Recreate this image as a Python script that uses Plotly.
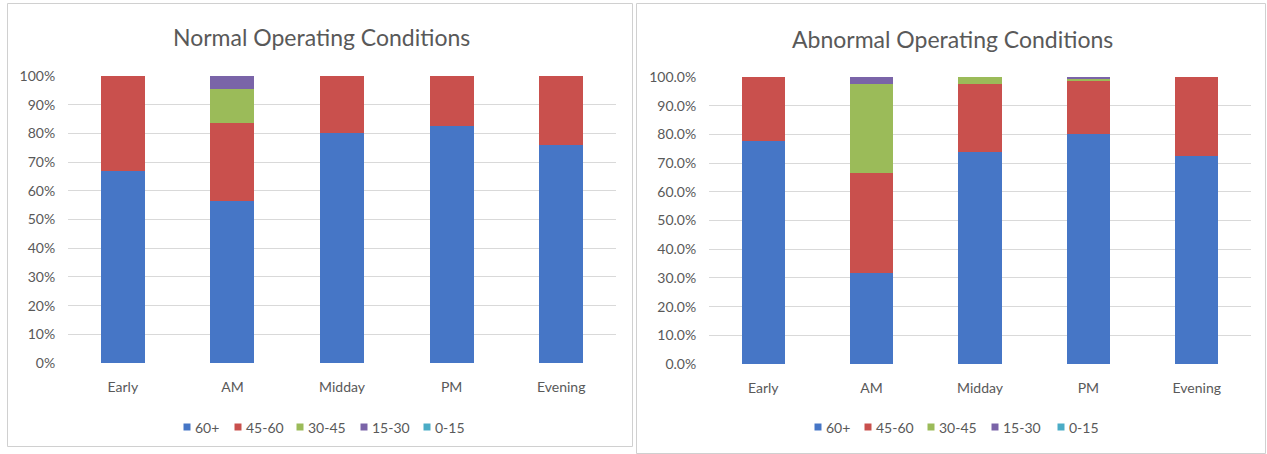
import plotly.graph_objects as go

# Time-of-day periods on the x axis
periods = ["Early", "AM", "Midday", "PM", "Evening"]

# Delay bands (minutes) and their share of trips, in percent
bands = ["60+", "45-60", "30-45", "15-30", "0-15"]

normal_60_plus = [67.0, 56.5, 80.0, 82.6, 75.8]
normal_45_60 = [33.0, 27.0, 20.0, 17.4, 24.2]
normal_30_45 = [0.0, 11.9, 0.0, 0.0, 0.0]
normal_15_30 = [0.0, 4.6, 0.0, 0.0, 0.0]
normal_0_15 = [0.0, 0.0, 0.0, 0.0, 0.0]

abnormal_60_plus = [77.8, 31.7, 73.9, 80.2, 72.4]
abnormal_45_60 = [22.2, 34.7, 23.7, 18.6, 27.6]
abnormal_30_45 = [0.0, 31.3, 2.4, 0.5, 0.0]
abnormal_15_30 = [0.0, 2.3, 0.0, 0.7, 0.0]
abnormal_0_15 = [0.0, 0.0, 0.0, 0.0, 0.0]

colors = ["#4676C6", "#C9504D", "#9BBB59", "#7A64A8", "#4BACC6"]

W, H = 1267, 454
FONT = "Lato, 'Open Sans', sans-serif"
GRAY = "#595959"


def px_x(x):
    return x / W


def px_y(y):
    return 1 - y / H


normal = [normal_60_plus, normal_45_60, normal_30_45, normal_15_30, normal_0_15]
abnormal = [abnormal_60_plus, abnormal_45_60, abnormal_30_45, abnormal_15_30, abnormal_0_15]

fig = go.Figure()

for name, vals, color in zip(bands, normal, colors):
    fig.add_trace(go.Bar(
        x=periods, y=[v / 100 for v in vals], name=name,
        marker=dict(color=color, line=dict(width=0)),
        xaxis="x", yaxis="y", showlegend=False,
    ))

for name, vals, color in zip(bands, abnormal, colors):
    fig.add_trace(go.Bar(
        x=periods, y=[v / 100 for v in vals], name=name,
        marker=dict(color=color, line=dict(width=0)),
        xaxis="x2", yaxis="y2", showlegend=False,
    ))

axis_common = dict(
    range=[0, 1.0001], dtick=0.1, showgrid=True, gridcolor="#D9D9D9",
    gridwidth=1, zeroline=False, showline=False,
    ticks="outside", ticklen=9, tickcolor="rgba(0,0,0,0)",
    tickfont=dict(family=FONT, size=14, color=GRAY), fixedrange=True,
)
xaxis_common = dict(
    showgrid=False, zeroline=False, showline=False, ticks="outside",
    ticklen=11, tickcolor="rgba(0,0,0,0)",
    tickfont=dict(family=FONT, size=14, color=GRAY), fixedrange=True,
)

# Compact legends: small colour squares with the band name right beside them
legend_rows = [
    (427, [187, 238, 300, 364, 427]),    # left chart: y, square centres
    (427, [818, 868, 931, 995, 1061]),   # right chart
]
shapes = [
    # chart frames
    dict(type="rect", xref="paper", yref="paper",
         x0=px_x(7.5), x1=px_x(632.5), y0=px_y(446.5), y1=px_y(3.5),
         line=dict(color="#D0D0D0", width=1), fillcolor="rgba(0,0,0,0)", layer="below"),
    dict(type="rect", xref="paper", yref="paper",
         x0=px_x(636.5), x1=px_x(1265.5), y0=px_y(453.5), y1=px_y(3.5),
         line=dict(color="#D0D0D0", width=1), fillcolor="rgba(0,0,0,0)", layer="below"),
]
annotations = [
    dict(text="Normal Operating Conditions", x=px_x(321), y=px_y(37),
         xref="paper", yref="paper", showarrow=False,
         xanchor="center", yanchor="middle",
         font=dict(family=FONT, size=23, color=GRAY)),
    dict(text="Abnormal Operating Conditions", x=px_x(952), y=px_y(39),
         xref="paper", yref="paper", showarrow=False,
         xanchor="center", yanchor="middle",
         font=dict(family=FONT, size=23, color=GRAY)),
]
for ly, centres in legend_rows:
    for name, color, cx in zip(bands, colors, centres):
        shapes.append(dict(
            type="rect", xref="paper", yref="paper",
            x0=px_x(cx - 3.5), x1=px_x(cx + 3.5),
            y0=px_y(ly + 3.5), y1=px_y(ly - 3.5),
            line=dict(width=0), fillcolor=color,
        ))
        annotations.append(dict(
            text=name, x=px_x(cx + 6), y=px_y(ly),
            xref="paper", yref="paper", showarrow=False,
            xanchor="left", yanchor="middle",
            font=dict(family=FONT, size=14, color=GRAY),
        ))

fig.update_layout(
    width=W, height=H,
    margin=dict(l=0, r=0, t=0, b=0, autoexpand=False),
    paper_bgcolor="white", plot_bgcolor="white",
    barmode="stack", bargap=0.6,
    showlegend=False,
    xaxis=dict(domain=[px_x(68), px_x(616)], anchor="y", **xaxis_common),
    yaxis=dict(domain=[px_y(363), px_y(76)], anchor="x", tickformat=".0%", **axis_common),
    xaxis2=dict(domain=[px_x(709), px_x(1251)], anchor="y2", **xaxis_common),
    yaxis2=dict(domain=[px_y(364), px_y(77)], anchor="x2", tickformat=".1%", **axis_common),
    annotations=annotations,
    shapes=shapes,
)

fig.write_html("out.html")
